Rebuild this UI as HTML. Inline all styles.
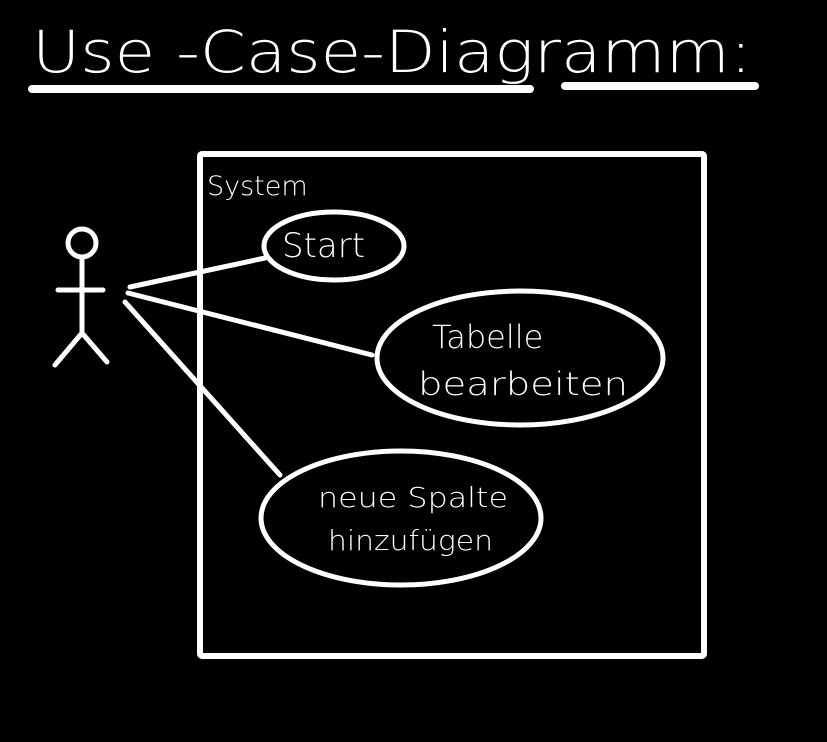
<!DOCTYPE html>
<html><head><meta charset="utf-8"><style>
html,body{margin:0;padding:0;background:#000;}
svg{display:block}
text{font-family:"DejaVu Sans","Liberation Sans",sans-serif;fill:#fff;font-weight:300}
</style></head><body>
<svg width="827" height="742" viewBox="0 0 827 742" xmlns="http://www.w3.org/2000/svg">
<rect width="827" height="742" fill="#000"/>
<text x="32" y="72" font-size="58" textLength="720" lengthAdjust="spacingAndGlyphs" style="font-weight:200">Use  -Case-Diagramm:</text>
<g stroke="#fff" stroke-linecap="round" fill="none">
<line x1="32" y1="89" x2="530" y2="89" stroke-width="8"/>
<line x1="565" y1="86" x2="755" y2="86" stroke-width="8"/>
<rect x="200" y="154" width="504" height="502" stroke-width="6" rx="2"/>
<circle cx="82" cy="243" r="14" stroke-width="5"/>
<line x1="82" y1="257" x2="82" y2="333" stroke-width="5"/>
<line x1="58" y1="290" x2="103" y2="290" stroke-width="5"/>
<polyline points="55,365 82,333 107,362" stroke-width="5"/>
<line x1="130" y1="287" x2="265" y2="258" stroke-width="5"/>
<line x1="128" y1="293" x2="372" y2="355" stroke-width="5"/>
<line x1="125" y1="302" x2="280" y2="475" stroke-width="5"/>
<ellipse cx="334" cy="246" rx="70" ry="34" stroke-width="5"/>
<ellipse cx="520" cy="358" rx="143" ry="67" stroke-width="5"/>
<ellipse cx="401" cy="518" rx="140" ry="67" stroke-width="5"/>
</g>
<text x="207" y="195" font-size="27">System</text>
<text x="282" y="257" font-size="34">Start</text>
<text x="432" y="348" font-size="32">Tabelle</text>
<text x="418" y="395" font-size="32" textLength="210" lengthAdjust="spacingAndGlyphs">bearbeiten</text>
<text x="318" y="507" font-size="28" textLength="190" lengthAdjust="spacingAndGlyphs">neue Spalte</text>
<text x="328" y="550" font-size="28" textLength="165" lengthAdjust="spacingAndGlyphs">hinzufügen</text>
</svg>
</body></html>
